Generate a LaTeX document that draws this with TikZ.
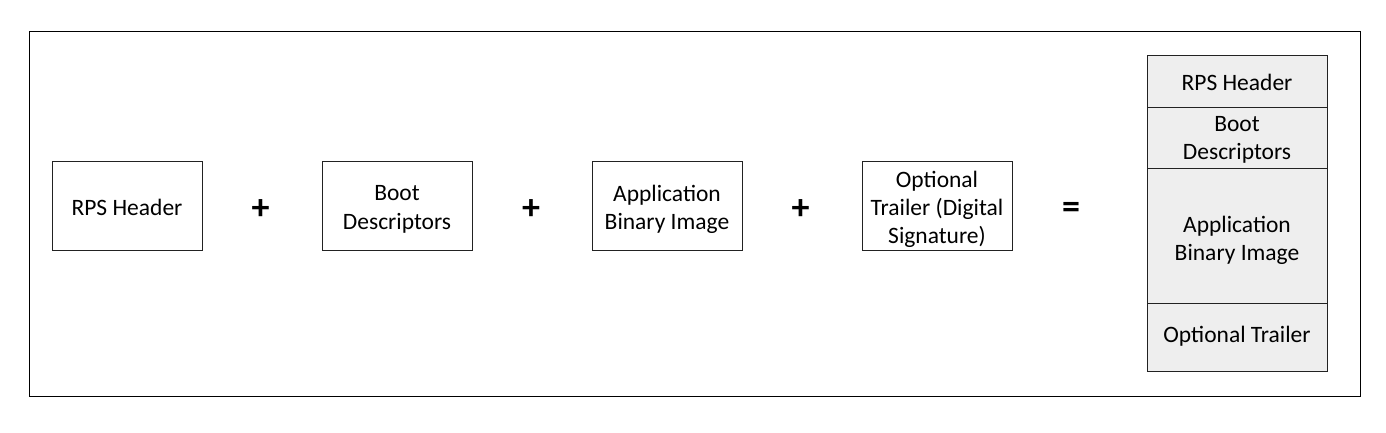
\documentclass[tikz,border=0pt]{standalone}
\usepackage{fontspec}
\setmainfont{Carlito}
\definecolor{stackfill}{HTML}{EEEEEE}
\definecolor{edge}{HTML}{222222}
\tikzset{
  part/.style={draw=edge, line width=1pt, inner sep=0pt},
  lbl/.style={align=center, inner sep=0pt, font=\fontsize{23.5}{28.3}\selectfont},
  stackbox/.style={part, fill=stackfill},
  op/.style={font=\fontsize{36}{36}\selectfont\bfseries, inner sep=0pt}
}
\begin{document}
\begin{tikzpicture}[x=1pt,y=-1pt]
\useasboundingbox (0,0) rectangle (1386,433);
\node[draw=black, line width=1pt, minimum width=1331pt, minimum height=364pt, inner sep=0pt] (frame) at (694.5,214) {};
\node[part, minimum width=150pt, minimum height=89pt, label={[lbl,yshift=-2pt]center:RPS Header}] (hdr) at (127,205.5) {};
\node[part, minimum width=150pt, minimum height=89pt, label={[lbl,yshift=-4pt]center:Boot\\Descriptors}] (boot) at (397,205.5) {};
\node[part, minimum width=150pt, minimum height=89pt, label={[lbl,yshift=-4pt]center:Application\\Binary Image}] (app) at (667,205.5) {};
\node[part, minimum width=150pt, minimum height=89pt, label={[lbl,yshift=-4pt]center:Optional\\Trailer (Digital\\Signature)}] (trl) at (937,205.5) {};
\node[op] (p1) at (260.5,210) {+};
\node[op] (p2) at (531,210) {+};
\node[op] (p3) at (800.5,210) {+};
\node[op] (eq) at (1071,210) {=};
\node[stackbox, minimum width=180pt, minimum height=52pt, label={[lbl]center:RPS Header}] (s1) at (1237,82) {};
\node[stackbox, minimum width=180pt, minimum height=60pt, label={[lbl,yshift=-2pt]center:Boot\\Descriptors}] (s2) at (1237,138) {};
\node[stackbox, minimum width=180pt, minimum height=135pt, label={[lbl,yshift=-5pt]center:Application\\Binary Image}] (s3) at (1237,235.5) {};
\node[stackbox, minimum width=180pt, minimum height=68pt, label={[lbl,yshift=1pt]center:Optional Trailer}] (s4) at (1237,337) {};
\end{tikzpicture}
\end{document}
